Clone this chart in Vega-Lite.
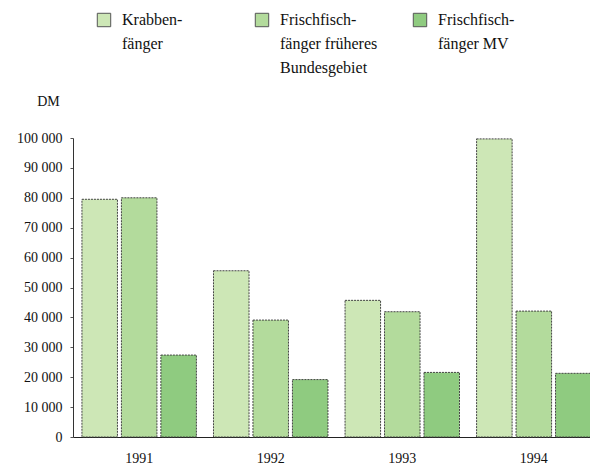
{
  "$schema": "https://vega.github.io/schema/vega-lite/v6.json",
  "autosize": "none",
  "width": 527,
  "height": 299,
  "padding": {"left": 73, "top": 138, "right": 0, "bottom": 30},
  "background": "white",
  "config": {
    "view": {"stroke": null},
    "font": "Liberation Serif, Times New Roman, DejaVu Serif, serif"
  },
  "data": {
    "values": [
      {"year": "1991", "series": "Krabben-|fänger| ", "value": 79500},
      {"year": "1991", "series": "Frischfisch-|fänger früheres|Bundesgebiet", "value": 80000},
      {"year": "1991", "series": "Frischfisch-|fänger MV| ", "value": 27400},
      {"year": "1992", "series": "Krabben-|fänger| ", "value": 55600},
      {"year": "1992", "series": "Frischfisch-|fänger früheres|Bundesgebiet", "value": 39100},
      {"year": "1992", "series": "Frischfisch-|fänger MV| ", "value": 19200},
      {"year": "1993", "series": "Krabben-|fänger| ", "value": 45700},
      {"year": "1993", "series": "Frischfisch-|fänger früheres|Bundesgebiet", "value": 41900},
      {"year": "1993", "series": "Frischfisch-|fänger MV| ", "value": 21600},
      {"year": "1994", "series": "Krabben-|fänger| ", "value": 99700},
      {"year": "1994", "series": "Frischfisch-|fänger früheres|Bundesgebiet", "value": 42100},
      {"year": "1994", "series": "Frischfisch-|fänger MV| ", "value": 21300}
    ]
  },
  "mark": {"type": "bar", "stroke": "#444444", "strokeWidth": 1, "strokeDash": [2, 1]},
  "encoding": {
    "x": {
      "field": "year", "type": "nominal",
      "scale": {"paddingInner": 0.13, "paddingOuter": 0.068},
      "axis": {
        "title": null, "labelAngle": 0, "ticks": false, "domain": true,
        "domainColor": "#222222", "labelFontSize": 14, "labelPadding": 14,
        "labelColor": "#111111", "labelFont": "Liberation Serif, Times New Roman, DejaVu Serif, serif"
      }
    },
    "xOffset": {
      "field": "series", "type": "nominal",
      "sort": ["Krabben-|fänger| ", "Frischfisch-|fänger früheres|Bundesgebiet", "Frischfisch-|fänger MV| "],
      "scale": {"paddingInner": 0.1, "paddingOuter": 0}
    },
    "y": {
      "field": "value", "type": "quantitative",
      "scale": {"domain": [0, 100000], "nice": false},
      "axis": {
        "title": "DM", "titleAngle": 0, "titleFontWeight": "normal",
        "titleFontSize": 14, "titleX": -25, "titleY": -30, "titleAlign": "center",
        "titleColor": "#111111", "titleFont": "Liberation Serif, Times New Roman, DejaVu Serif, serif",
        "values": [0, 10000, 20000, 30000, 40000, 50000, 60000, 70000, 80000, 90000, 100000],
        "labelExpr": "replace(format(datum.value, ','), ',', ' ')",
        "labelFontSize": 14, "labelPadding": 8, "labelColor": "#111111",
        "labelFont": "Liberation Serif, Times New Roman, DejaVu Serif, serif",
        "grid": false, "tickSize": 3, "tickOffset": 0, "tickColor": "#555555",
        "domainColor": "#333333", "labelOverlap": false
      }
    },
    "color": {
      "field": "series", "type": "nominal",
      "sort": ["Krabben-|fänger| ", "Frischfisch-|fänger früheres|Bundesgebiet", "Frischfisch-|fänger MV| "],
      "scale": {"range": ["#cde7b6", "#b3db9c", "#8fcb80"]},
      "legend": {
        "title": null, "orient": "none", "legendX": 23, "legendY": -126,
        "direction": "horizontal", "columns": 3, "gridAlign": "all",
        "columnPadding": 33,
        "symbolType": "square", "symbolSize": 180, "symbolStrokeColor": "#555555",
        "symbolStrokeWidth": 1,
        "labelFont": "Liberation Serif, Times New Roman, DejaVu Serif, serif",
        "labelFontSize": 16, "labelColor": "#111111",
        "labelBaseline": "top", "labelOffset": 10, "labelLimit": 200,
        "labelExpr": "split(datum.label, '|')",
        "encode": {"labels": {"update": {"lineHeight": {"value": 24}, "dy": {"value": -8}}}}
      }
    }
  }
}
